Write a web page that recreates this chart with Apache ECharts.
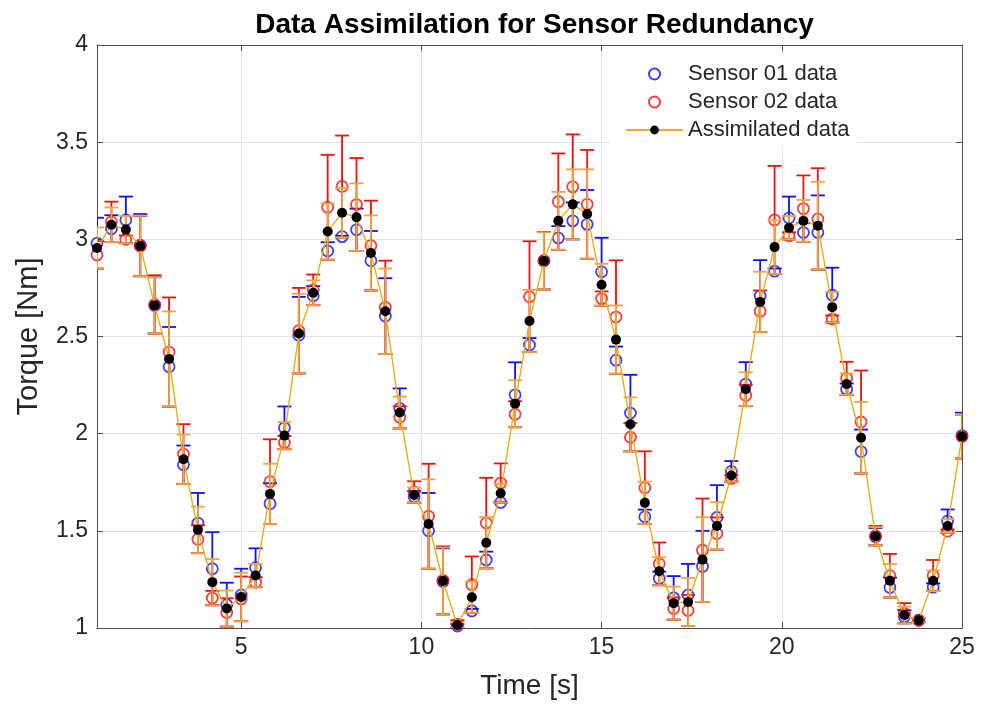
<!DOCTYPE html>
<html><head><meta charset="utf-8">
<script src="https://cdn.jsdelivr.net/npm/echarts@6/dist/echarts.min.js"></script>
<style>html,body{margin:0;padding:0;background:#fff}#c{width:984px;height:705px}</style>
</head><body><div id="c"></div>
<script>
// ---- data ----
const timeS = [1, 1.4, 1.8, 2.2, 2.6, 3, 3.4, 3.8, 4.2, 4.6, 5, 5.4, 5.8, 6.2, 6.6, 7, 7.4, 7.8, 8.2, 8.6,
  9, 9.4, 9.8, 10.2, 10.6, 11, 11.4, 11.8, 12.2, 12.6, 13, 13.4, 13.8, 14.2, 14.6, 15, 15.4, 15.8, 16.2, 16.6,
  17, 17.4, 17.8, 18.2, 18.6, 19, 19.4, 19.8, 20.2, 20.6, 21, 21.4, 21.8, 22.2, 22.6, 23, 23.4, 23.8, 24.2, 24.6, 25];
const sensor01 = [2.98, 3.055, 3.10, 2.97, 2.66, 2.344, 1.84, 1.54, 1.305, 1.12, 1.17, 1.31, 1.64, 2.03, 2.507, 2.71, 2.94, 3.014, 3.049, 2.89,
  2.605, 2.13, 1.675, 1.50, 1.24, 1.01, 1.088, 1.35, 1.646, 2.20, 2.456, 2.89, 3.007, 3.095, 3.077, 2.833, 2.378, 2.106, 1.572, 1.255,
  1.155, 1.17, 1.317, 1.569, 1.806, 2.255, 2.708, 2.836, 3.11, 3.035, 3.035, 2.713, 2.229, 1.908, 1.47, 1.208, 1.058, 1.04, 1.21, 1.55, 1.99];
const sensor02 = [2.92, 3.09, 3.00, 2.965, 2.665, 2.42, 1.895, 1.457, 1.154, 1.08, 1.15, 1.236, 1.753, 1.954, 2.53, 2.74, 3.165, 3.272, 3.179, 2.968,
  2.65, 2.084, 1.70, 1.575, 1.245, 1.02, 1.223, 1.54, 1.746, 2.10, 2.705, 2.89, 3.194, 3.27, 3.18, 2.695, 2.60, 1.982, 1.722, 1.33,
  1.10, 1.09, 1.40, 1.486, 1.77, 2.197, 2.63, 3.10, 3.018, 3.158, 3.105, 2.59, 2.285, 2.06, 1.475, 1.269, 1.076, 1.04, 1.27, 1.498, 1.985];
const assimilated = [2.955, 3.075, 3.05, 2.966, 2.66, 2.384, 1.868, 1.505, 1.236, 1.10, 1.16, 1.27, 1.69, 1.99, 2.515, 2.725, 3.04, 3.137, 3.114, 2.93,
  2.63, 2.109, 1.684, 1.535, 1.242, 1.015, 1.158, 1.439, 1.693, 2.154, 2.58, 2.889, 3.095, 3.18, 3.13, 2.766, 2.484, 2.048, 1.644, 1.292,
  1.128, 1.134, 1.352, 1.525, 1.785, 2.229, 2.678, 2.96, 3.06, 3.095, 3.07, 2.651, 2.255, 1.979, 1.472, 1.243, 1.067, 1.04, 1.243, 1.525, 1.986];
// common lower end of the (symmetric) error bars, read from the lower caps
const errorLowerBound = [2.849, 2.986, 2.98, 2.81, 2.515, 2.139, 1.741, 1.385, 1.117, 1.007, 1.035, 1.21, 1.535, 1.92, 2.31, 2.661, 2.895, 3.01, 2.94, 2.737,
  2.41, 2.027, 1.645, 1.305, 1.07, 1.0, 1.078, 1.307, 1.645, 2.033, 2.42, 2.742, 2.946, 3.0, 2.9, 2.658, 2.308, 1.909, 1.535, 1.22,
  1.043, 1.01, 1.134, 1.403, 1.753, 2.142, 2.523, 2.822, 3.0, 2.987, 2.844, 2.572, 2.2, 1.795, 1.425, 1.157, 1.024, 1.03, 1.19, 1.49, 1.872];
const xTickValues = [5, 10, 15, 20, 25];
const yRange = [1, 4];
const titleText = 'Data Assimilation for Sensor Redundancy';
const names = ['Sensor 01 data', 'Sensor 02 data', 'Assimilated data'];

// ---- chart ----
const FONT = 'Liberation Sans, Arial, Helvetica, sans-serif';
const BLUE = '#1010f0', RED = '#f01010', ORANGE = '#e9ad22', ORANGE_BAR = '#f0a640';

function errData(vals) {
  return timeS.map((t, i) => {
    const half = vals[i] - errorLowerBound[i];
    return [t, vals[i] - half, vals[i] + half];
  });
}
function errRender(color) {
  return function (params, api) {
    const x = api.value(0);
    const pLo = api.coord([x, api.value(1)]);
    const pHi = api.coord([x, api.value(2)]);
    const hw = 7;
    const style = { stroke: color, lineWidth: 1.8, fill: null };
    return {
      type: 'group',
      children: [
        { type: 'line', shape: { x1: pLo[0], y1: pLo[1], x2: pHi[0], y2: pHi[1] }, style },
        { type: 'line', shape: { x1: pLo[0] - hw, y1: pLo[1], x2: pLo[0] + hw, y2: pLo[1] }, style },
        { type: 'line', shape: { x1: pHi[0] - hw, y1: pHi[1], x2: pHi[0] + hw, y2: pHi[1] }, style }
      ]
    };
  };
}
const pts = vals => timeS.map((t, i) => [t, vals[i]]);

const axisLineStyle = { color: '#4d4d4d', width: 1 };
const chart = echarts.init(document.getElementById('c'), null, { renderer: 'canvas' });
chart.setOption({
  backgroundColor: '#fff',
  animation: false,
  title: {
    text: titleText, left: 529.5, top: 6, textAlign: 'center',
    textStyle: { fontFamily: FONT, fontSize: 28, fontWeight: 'bold', color: '#000' }
  },
  grid: { left: 97, right: 22, top: 45, bottom: 75, containLabel: false },
  legend: {
    orient: 'vertical', left: 610, top: 55,
    data: names,
    backgroundColor: '#fff', borderWidth: 0,
    padding: [8, 8, 6, 15],
    itemWidth: 57, itemHeight: 11, itemGap: 6,
    textStyle: { fontFamily: FONT, fontSize: 22, color: '#262626', lineHeight: 22 }
  },
  xAxis: [{
    type: 'value', min: 1, max: 25, position: 'bottom',
    name: 'Time [s]', nameLocation: 'middle', nameGap: 44,
    nameTextStyle: { fontFamily: FONT, fontSize: 28, color: '#262626' },
    axisLine: { show: true, onZero: false, lineStyle: axisLineStyle },
    axisTick: { show: true, inside: true, length: 6, customValues: xTickValues, lineStyle: axisLineStyle },
    axisLabel: { customValues: xTickValues, fontFamily: FONT, fontSize: 23, color: '#262626', margin: 8 },
    splitLine: { show: true, lineStyle: { color: '#e3e3e3', width: 1 } }
  }, {
    type: 'value', min: 1, max: 25, position: 'top',
    axisLine: { show: true, onZero: false, lineStyle: axisLineStyle },
    axisTick: { show: true, inside: true, length: 6, customValues: xTickValues, lineStyle: axisLineStyle },
    axisLabel: { show: false, customValues: xTickValues },
    splitLine: { show: false }
  }],
  yAxis: [{
    type: 'value', min: yRange[0], max: yRange[1], interval: 0.5, position: 'left',
    name: 'Torque [Nm]', nameLocation: 'middle', nameGap: 54, nameRotate: 90,
    nameTextStyle: { fontFamily: FONT, fontSize: 29, color: '#262626' },
    axisLine: { show: true, onZero: false, lineStyle: axisLineStyle },
    axisTick: { show: true, inside: true, length: 6, lineStyle: axisLineStyle },
    axisLabel: { fontFamily: FONT, fontSize: 23, color: '#262626', margin: 9 },
    splitLine: { show: true, lineStyle: { color: '#e3e3e3', width: 1 } }
  }, {
    type: 'value', min: yRange[0], max: yRange[1], interval: 0.5, position: 'right',
    axisLine: { show: true, onZero: false, lineStyle: axisLineStyle },
    axisTick: { show: true, inside: true, length: 6, lineStyle: axisLineStyle },
    axisLabel: { show: false },
    splitLine: { show: false }
  }],
  series: [
    { name: 'err01', type: 'custom', z: 2, clip: true, renderItem: errRender(BLUE),
      encode: { x: 0, y: [1, 2] }, data: errData(sensor01), silent: true },
    { name: names[0], type: 'scatter', z: 3, data: pts(sensor01), symbol: 'circle', symbolSize: 11,
      itemStyle: { color: 'rgba(0,0,0,0)', borderColor: BLUE, borderWidth: 1.8 } },
    { name: 'err02', type: 'custom', z: 4, clip: true, renderItem: errRender(RED),
      encode: { x: 0, y: [1, 2] }, data: errData(sensor02), silent: true },
    { name: names[1], type: 'scatter', z: 5, data: pts(sensor02), symbol: 'circle', symbolSize: 11,
      itemStyle: { color: 'rgba(0,0,0,0)', borderColor: RED, borderWidth: 1.8 } },
    { name: 'errA', type: 'custom', z: 6, clip: true, renderItem: errRender(ORANGE_BAR),
      encode: { x: 0, y: [1, 2] }, data: errData(assimilated), silent: true },
    { name: names[2], type: 'line', z: 7, data: pts(assimilated), symbol: 'circle', symbolSize: 10,
      showSymbol: true, lineStyle: { color: ORANGE, width: 1.4 }, itemStyle: { color: '#000' } }
  ]
});
</script></body></html>
